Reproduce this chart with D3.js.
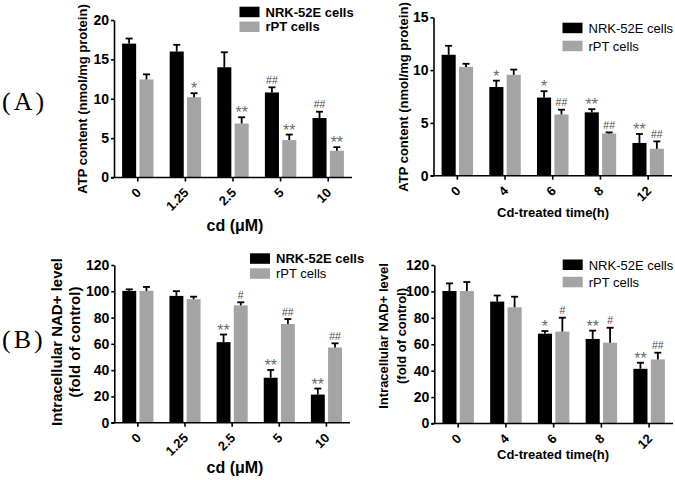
<!DOCTYPE html>
<html>
<head>
<meta charset="utf-8">
<script src="https://cdn.jsdelivr.net/npm/d3@7"></script>
<style>
  body { margin: 0; background: #fff; }
  svg { display: block; font-family: "Liberation Sans", Arial, sans-serif; }
  .axis path, .axis line { stroke: #000; stroke-width: 1.6; }
  .axis text { fill: #000; font-weight: bold; }
</style>
</head>
<body>
<svg id="chart" width="675" height="480"></svg>
<script>
// categories
const doseCats = ['0', '1.25', '2.5', '5', '10'];
const timeCats = ['0', '4', '6', '8', '12'];
const seriesNames = ['NRK-52E cells', 'rPT cells'];

// ATP vs Cd dose
const atpDoseNRK = [17.0, 16.0, 14.0, 10.8, 7.55];
const atpDoseNRKErr = [0.65, 0.85, 1.9, 0.65, 0.8];
const atpDoseRPT = [12.45, 10.2, 6.85, 4.75, 3.4];
const atpDoseRPTErr = [0.65, 0.5, 0.8, 0.7, 0.45];
const atpDoseNRKMark = ['', '', '', '##', '##'];
const atpDoseRPTMark = ['', '*', '**', '**', '**'];

// ATP vs time
const atpTimeNRK = [11.45, 8.4, 7.4, 6.0, 3.1];
const atpTimeNRKErr = [0.85, 0.6, 0.6, 0.3, 0.85];
const atpTimeRPT = [10.3, 9.55, 5.8, 4.0, 2.55];
const atpTimeRPTErr = [0.3, 0.5, 0.45, 0.1, 0.7];
const atpTimeNRKMark = ['', '*', '*', '**', '**'];
const atpTimeRPTMark = ['', '', '##', '##', '##'];

// NAD+ vs Cd dose
const nadDoseNRK = [100.3, 96.5, 61.3, 34.2, 21.4];
const nadDoseNRKErr = [1.2, 3.6, 5.8, 5.9, 4.6];
const nadDoseRPT = [100.3, 94.0, 89.3, 75.1, 57.2];
const nadDoseRPTErr = [3.0, 1.9, 2.3, 3.8, 3.2];
const nadDoseNRKMark = ['', '', '**', '**', '**'];
const nadDoseRPTMark = ['', '', '#', '##', '##'];

// NAD+ vs time
const nadTimeNRK = [100.3, 92.3, 68.0, 64.0, 41.4];
const nadTimeNRKErr = [5.8, 4.6, 2.0, 6.3, 4.6];
const nadTimeRPT = [100.3, 88.0, 69.6, 61.2, 48.5];
const nadTimeRPTErr = [6.8, 8.0, 10.5, 11.3, 5.1];
const nadTimeNRKMark = ['', '', '*', '**', '**'];
const nadTimeRPTMark = ['', '', '#', '#', '##'];

const colors = ['#000000', '#a4a4a4'];

const svg = d3.select('#chart');

function rows(cats, v1, e1, m1, v2, e2, m2) {
  return cats.map((c, i) => ({
    cat: c,
    vals: [
      { s: 0, v: v1[i], e: e1[i], m: m1[i] },
      { s: 1, v: v2[i], e: e2[i], m: m2[i] }
    ]
  }));
}

function drawPanel(p) {
  const g = svg.append('g');
  const x = d3.scaleBand().domain(p.data.map(d => d.cat))
    .range([p.x0, p.x1]).paddingInner(0.34).paddingOuter(0.17);
  const x1 = d3.scaleBand().domain([0, 1]).range([0, x.bandwidth()]).paddingInner(0.19);
  const y = d3.scaleLinear().domain([0, p.ymax]).range([p.y0, p.ytop]);

  // bars
  const grp = g.selectAll('g.grp').data(p.data).enter().append('g')
    .attr('transform', d => `translate(${x(d.cat)},0)`);
  grp.selectAll('rect').data(d => d.vals).enter().append('rect')
    .attr('x', d => x1(d.s))
    .attr('width', x1.bandwidth())
    .attr('y', d => y(d.v))
    .attr('height', d => y(0) - y(d.v))
    .attr('fill', d => colors[d.s]);

  // error bars (upper only)
  grp.selectAll('line.err').data(d => d.vals).enter().append('line')
    .attr('x1', d => x1(d.s) + x1.bandwidth() / 2)
    .attr('x2', d => x1(d.s) + x1.bandwidth() / 2)
    .attr('y1', d => y(d.v))
    .attr('y2', d => y(d.v + d.e))
    .attr('stroke', '#000').attr('stroke-width', 1.8);
  grp.selectAll('line.cap').data(d => d.vals).enter().append('line')
    .attr('x1', d => x1(d.s) + x1.bandwidth() / 2 - 3.5)
    .attr('x2', d => x1(d.s) + x1.bandwidth() / 2 + 3.5)
    .attr('y1', d => y(d.v + d.e))
    .attr('y2', d => y(d.v + d.e))
    .attr('stroke', '#000').attr('stroke-width', 1.8);

  // significance marks
  grp.selectAll('text.mark').data(d => d.vals.filter(v => v.m)).enter().append('text')
    .attr('x', d => x1(d.s) + x1.bandwidth() / 2)
    .attr('y', d => d.m.includes('*') ? y(d.v + d.e) + 1 : y(d.v + d.e) - 3.5)
    .attr('text-anchor', 'middle')
    .attr('fill', d => d.m.includes('*') ? '#6a6a6a' : '#4a4a4a')
    .attr('font-size', d => d.m.includes('*') ? 16 : 10.5)
    .text(d => d.m);

  // axes
  const yAxis = g.append('g').attr('class', 'axis')
    .attr('transform', `translate(${p.x0},0)`)
    .call(d3.axisLeft(y).tickValues(d3.range(0, p.ymax + 1, p.ystep)).tickSize(3).tickPadding(2).tickSizeOuter(0));
  yAxis.selectAll('text').attr('font-size', 14).attr('font-weight', 'bold');

  const xAxis = g.append('g').attr('class', 'axis')
    .attr('transform', `translate(0,${p.y0})`)
    .call(d3.axisBottom(x).tickSize(4).tickSizeOuter(0));
  xAxis.select('.domain').attr('d', `M${p.x0 - 3},0H${p.x1}`);
  xAxis.selectAll('text')
    .attr('font-size', 13).attr('font-weight', 'bold')
    .attr('text-anchor', 'end')
    .attr('dy', null).attr('y', 0)
    .attr('transform', 'translate(4,16) rotate(-45)');

  // axis titles
  g.append('text')
    .attr('x', p.xlab.x).attr('y', p.xlab.y)
    .attr('text-anchor', 'middle')
    .attr('font-size', p.xlab.size).attr('font-weight', 'bold')
    .text(p.xlab.text);
  p.ylab.lines.forEach((t, i) => {
    g.append('text')
      .attr('transform', `translate(${p.ylab.xs[i]},${p.ylab.cy}) rotate(-90)`)
      .attr('text-anchor', 'middle')
      .attr('font-size', p.ylab.size).attr('font-weight', 'bold')
      .text(t);
  });

  // legend
  const leg = g.append('g').attr('transform', `translate(${p.leg.x},${p.leg.y})`);
  seriesNames.forEach((n, i) => {
    leg.append('rect')
      .attr('x', 0).attr('y', i * p.leg.dy)
      .attr('width', 20).attr('height', 10.5)
      .attr('fill', colors[i]);
    leg.append('text')
      .attr('x', 26).attr('y', i * p.leg.dy + 10)
      .attr('font-size', 13)
      .attr('font-weight', p.leg.bold[i] ? 'bold' : 'normal')
      .text(n);
  });
}

drawPanel({
  data: rows(doseCats, atpDoseNRK, atpDoseNRKErr, atpDoseNRKMark, atpDoseRPT, atpDoseRPTErr, atpDoseRPTMark),
  x0: 114, x1: 352, y0: 177.5, ytop: 20, ymax: 20, ystep: 5,
  xlab: { text: 'cd (μM)', x: 235, y: 231, size: 16 },
  ylab: { lines: ['ATP content (nmol/mg protein)'], xs: [87], cy: 99, size: 13 },
  leg: { x: 239.5, y: 6.7, dy: 14.8, bold: [true, true] }
});

drawPanel({
  data: rows(timeCats, atpTimeNRK, atpTimeNRKErr, atpTimeNRKMark, atpTimeRPT, atpTimeRPTErr, atpTimeRPTMark),
  x0: 433.5, x1: 672, y0: 175.7, ytop: 17.3, ymax: 15, ystep: 5,
  xlab: { text: 'Cd-treated time(h)', x: 553, y: 217, size: 13 },
  ylab: { lines: ['ATP content (nmol/mg protein)'], xs: [407.5], cy: 97, size: 13 },
  leg: { x: 562.5, y: 22.7, dy: 18, bold: [false, false] }
});

drawPanel({
  data: rows(doseCats, nadDoseNRK, nadDoseNRKErr, nadDoseNRKMark, nadDoseRPT, nadDoseRPTErr, nadDoseRPTMark),
  x0: 114.3, x1: 350, y0: 422.7, ytop: 265, ymax: 120, ystep: 20,
  xlab: { text: 'cd (μM)', x: 235, y: 473, size: 16 },
  ylab: { lines: ['Intracellular NAD+ level', '(fold of control)'], xs: [61.5, 80], cy: 342, size: 15 },
  leg: { x: 250, y: 253.3, dy: 15, bold: [true, false] }
});

drawPanel({
  data: rows(timeCats, nadTimeNRK, nadTimeNRKErr, nadTimeNRKMark, nadTimeRPT, nadTimeRPTErr, nadTimeRPTMark),
  x0: 434.3, x1: 673, y0: 423.5, ytop: 265, ymax: 120, ystep: 20,
  xlab: { text: 'Cd-treated time(h)', x: 553, y: 459, size: 13 },
  ylab: { lines: ['Intracellular NAD+ level', '(fold of control)'], xs: [387.5, 405.5], cy: 336, size: 13 },
  leg: { x: 562.7, y: 259.5, dy: 17.3, bold: [false, false] }
});

// panel letters
[['(A)', 101], ['(B)', 339]].forEach(([t, cy]) => {
  svg.append('text')
    .attr('x', 2).attr('y', cy + 9)
    .attr('font-family', '"Liberation Serif", "DejaVu Serif", serif')
    .attr('font-size', 26)
    .attr('letter-spacing', 3)
    .text(t);
});
</script>
</body>
</html>
